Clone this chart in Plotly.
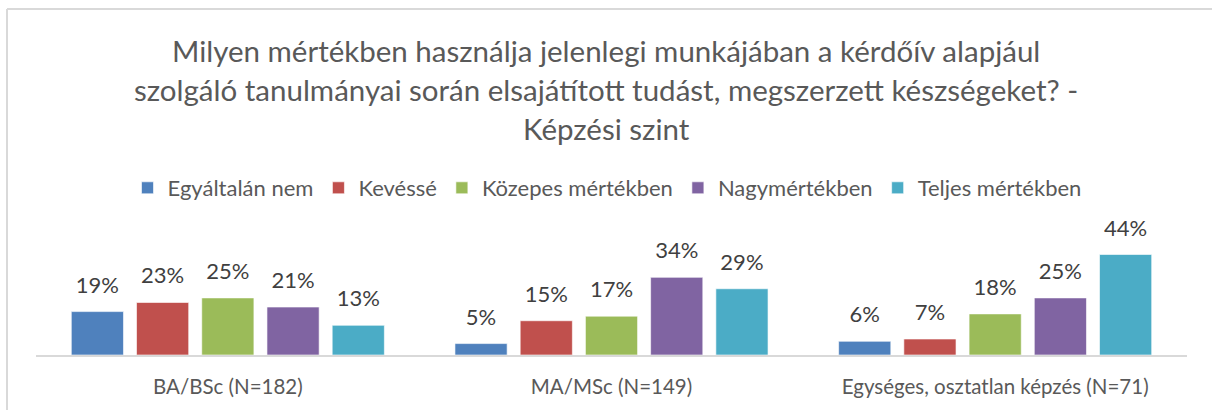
import plotly.graph_objects as go

# Survey results by level of study (share of respondents, %)
categories = ["BA/BSc (N=182)", "MA/MSc (N=149)", "Egységes, osztatlan képzés (N=71)"]
series_names = ["Egyáltalán nem", "Kevéssé", "Közepes mértékben", "Nagymértékben", "Teljes mértékben"]
values = {
    "Egyáltalán nem": [19, 5, 6],
    "Kevéssé": [23, 15, 7],
    "Közepes mértékben": [25, 17, 18],
    "Nagymértékben": [21, 34, 25],
    "Teljes mértékben": [13, 29, 44],
}
colors = ["#4F81BD", "#C0504D", "#9BBB59", "#8064A2", "#4BACC6"]
title_lines = [
    "Milyen mértékben használja jelenlegi munkájában a kérdőív alapjául",
    "szolgáló tanulmányai során elsajátított tudást, megszerzett készségeket? -",
    "Képzési szint",
]

W, H = 1212, 410
ML, MR, MT, MB = 36, 25, 215, 55
PW, PH = W - ML - MR, H - MT - MB
FONT = "Lato"
TXT = "#595959"


def px_x(px):
    return (px - ML) / PW


def px_y(py):
    return (H - MB - py) / PH


fig = go.Figure()
for name, col in zip(series_names, colors):
    fig.add_trace(go.Bar(
        name=name, x=categories, y=values[name],
        marker=dict(color=col, line=dict(color="rgba(255,255,255,0.6)", width=1)),
        hoverinfo="skip",
    ))
# value labels, grouped the same way as the bars
for name in series_names:
    fig.add_trace(go.Scatter(
        x=categories, y=values[name], mode="markers+text",
        text=[f"{v}%" for v in values[name]], textposition="top center",
        textfont=dict(family=FONT, size=22, color="#404040"),
        marker=dict(size=20, color="rgba(0,0,0,0)"),
        showlegend=False, hoverinfo="skip", cliponaxis=False,
    ))

annotations = []
for i, line in enumerate(title_lines):
    annotations.append(dict(
        text=line, xref="paper", yref="paper", x=px_x(606), y=px_y(50 + 39 * i),
        xanchor="center", yanchor="middle", showarrow=False,
        font=dict(family=FONT, size=29.5, color=TXT),
    ))

shapes = [
    dict(type="line", xref="paper", yref="paper", x0=px_x(7), x1=px_x(W + 5),
         y0=px_y(9), y1=px_y(9), line=dict(color="#D9D9D9", width=2)),
    dict(type="line", xref="paper", yref="paper", x0=px_x(7), x1=px_x(7),
         y0=px_y(9), y1=px_y(H + 5), line=dict(color="#D9D9D9", width=2)),
]

fig.update_layout(
    width=W, height=H,
    margin=dict(l=ML, r=MR, t=MT, b=MB),
    paper_bgcolor="white", plot_bgcolor="white",
    barmode="group", bargap=0.15, bargroupgap=0.2,
    scattermode="group", scattergap=0.15,
    font=dict(family=FONT, color=TXT),
    showlegend=True,
    legend=dict(orientation="h", x=px_x(607), xanchor="center", y=px_y(188), yanchor="middle",
                font=dict(family=FONT, size=22, color=TXT), traceorder="normal"),
    annotations=annotations,
    shapes=shapes,
    xaxis=dict(showline=True, linecolor="#D9D9D9", linewidth=1.5, ticks="",
               tickfont=dict(family=FONT, size=20.5, color=TXT), ticklabelstandoff=13,
               showgrid=False, zeroline=False, fixedrange=True),
    yaxis=dict(visible=False, range=[0, PH / 2.284], showgrid=False, zeroline=False),
)

fig.write_html("out.html")
